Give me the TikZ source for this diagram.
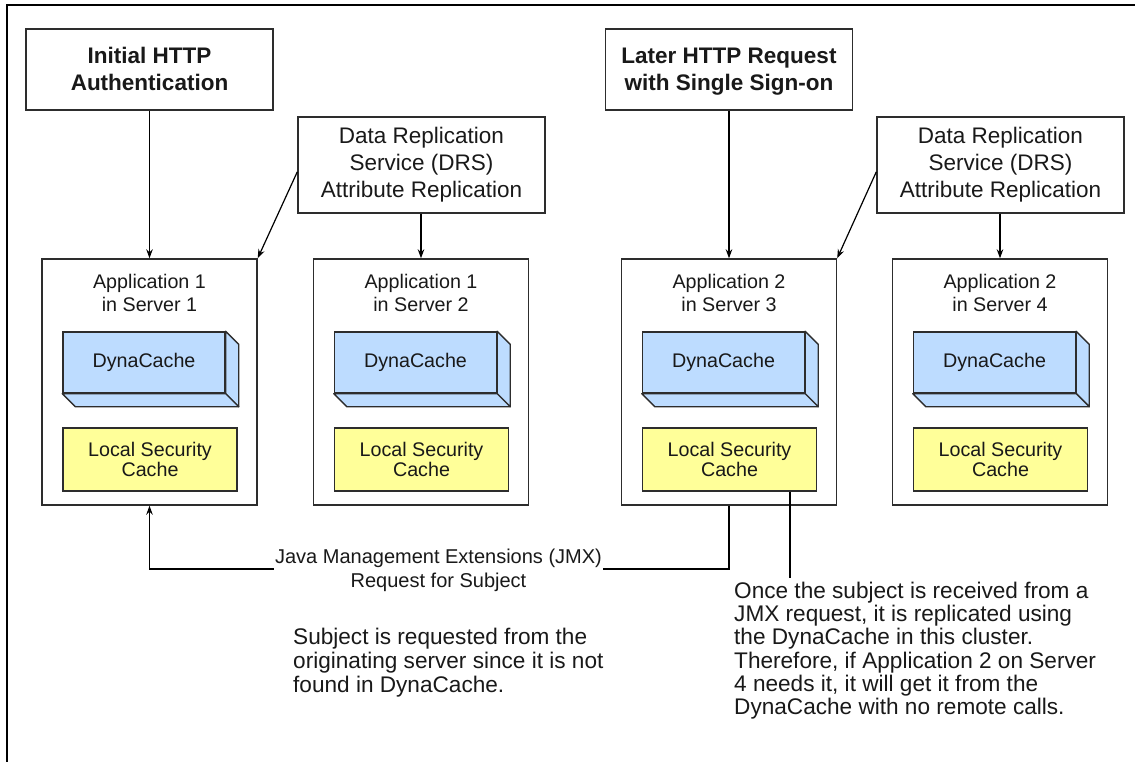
\documentclass[tikz,border=0pt]{standalone}
\usepackage{fontspec}
\setmainfont{Liberation Sans}
\usetikzlibrary{arrows.meta,calc}
\definecolor{cacheblue}{RGB}{189,220,255}
\definecolor{secyellow}{RGB}{255,255,153}
\definecolor{edgegray}{RGB}{45,45,45}
\definecolor{txt}{RGB}{25,25,25}
\newcommand\tstrut{\rule[-4pt]{0pt}{24pt}}
\tikzset{
  box/.style={draw=edgegray, line width=1.4pt, fill=white, inner sep=0pt, align=center, text=txt},
  titlebox/.style={box, minimum width=247pt, minimum height=81pt, font=\fontsize{22.5}{27}\selectfont\bfseries},
  drsbox/.style={box, minimum width=247pt, minimum height=96pt, font=\fontsize{22.5}{27}\selectfont},
  appbox/.style={box, minimum width=215pt, minimum height=246pt},
  apptext/.style={inner sep=0pt, align=center, text=txt, font=\fontsize{19.7}{23}\selectfont},
  dynafront/.style={box, fill=cacheblue, minimum width=162pt, minimum height=61pt, font=\fontsize{19.7}{23}\selectfont},
  dynaface/.style={draw=edgegray, line width=1.4pt, fill=cacheblue, line join=round},
  lscbox/.style={box, fill=secyellow, minimum width=174pt, minimum height=63pt, font=\fontsize{19.7}{20}\selectfont},
  arr/.style={-{Stealth[length=9pt,width=6.5pt]}, line width=1.2pt, draw=black},
  plain/.style={line width=1.2pt, draw=black},
  note/.style={inner sep=0pt, align=left, text=txt, anchor=north west},
  jmxtext/.style={inner xsep=1pt, inner ysep=0pt, align=center, text=txt, font=\fontsize{20}{24}\selectfont}
}
\begin{document}
\begin{tikzpicture}[x=1pt,y=-1pt]
\useasboundingbox (0,0) rectangle (1135,762);
\fill[white] (0,0) rectangle (1135,762);
% outer frame (top and left)
\draw[line width=1.2pt] (7,762) -- (7,5) -- (1135,5);

% top boxes
\node[titlebox] (init) at (149.5,69.5) {\tstrut Initial HTTP\\\tstrut Authentication};
\node[titlebox] (later) at (729,69.5) {\tstrut Later HTTP Request\\\tstrut with Single Sign-on};
\node[drsbox] (drs1) at (421.5,165) {Data Replication\\Service (DRS)\\Attribute Replication};
\node[drsbox] (drs2) at (1000.5,165) {Data Replication\\Service (DRS)\\Attribute Replication};

% application servers
\foreach \i/\cx/\app in {1/149.5/1, 2/421/1, 3/729/2, 4/1000/2}{
  \node[appbox] (s\i) at (\cx,382) {};
  \node[apptext] (t\i) at (\cx,293) {Application \app\\in Server \i};
  \node[dynafront] (d\i) at (\cx-5.5,362.5) {DynaCache};
  \filldraw[dynaface] (d\i.north east) -- ++(13,13) -- ($(d\i.south east)+(13,13)$) -- (d\i.south east) -- cycle;
  \filldraw[dynaface] (d\i.south west) -- ++(13,13) -- ($(d\i.south east)+(13,13)$) -- (d\i.south east) -- cycle;
  \node[lscbox] (l\i) at (\cx+0.5,459.5) {Local Security\\Cache};
}

% arrows from top
\draw[arr] (init.south) -- (s1.north);
\draw[arr] (drs1.south -| s2.north) -- (s2.north);
\draw[arr] ($(drs1.north west)!0.57!(drs1.south west)$) -- (s1.north east);
\draw[arr] (later.south) -- (s3.north);
\draw[arr] (drs2.south -| s4.north) -- (s4.north);
\draw[arr] ($(drs2.north west)!0.57!(drs2.south west)$) -- (s3.north east);

% JMX request
\node[jmxtext] (jmx) at (438.5,570) {Java Management Extensions (JMX)\\Request for Subject};
\coordinate (jy) at (0,569);
\draw[plain] (s3.south) |- (jmx.east |- jy);
\draw[arr] (jmx.west |- jy) -| (s1.south);

% notes
\node[note, font=\fontsize{22.6}{24}\selectfont] (note1) at (293,628)
  {Subject is requested from the\\originating server since it is not\\found in DynaCache.};
\node[note, font=\fontsize{22.6}{23.2}\selectfont] (note2) at (734,582)
  {Once the subject is received from a\\JMX request, it is replicated using\\the DynaCache in this cluster.\\Therefore, if Application 2 on Server\\4 needs it, it will get it from the\\DynaCache with no remote calls.};
\coordinate (n2) at (790,578);
\draw[plain] (l3.south -| n2) -- (n2);
\end{tikzpicture}
\end{document}
